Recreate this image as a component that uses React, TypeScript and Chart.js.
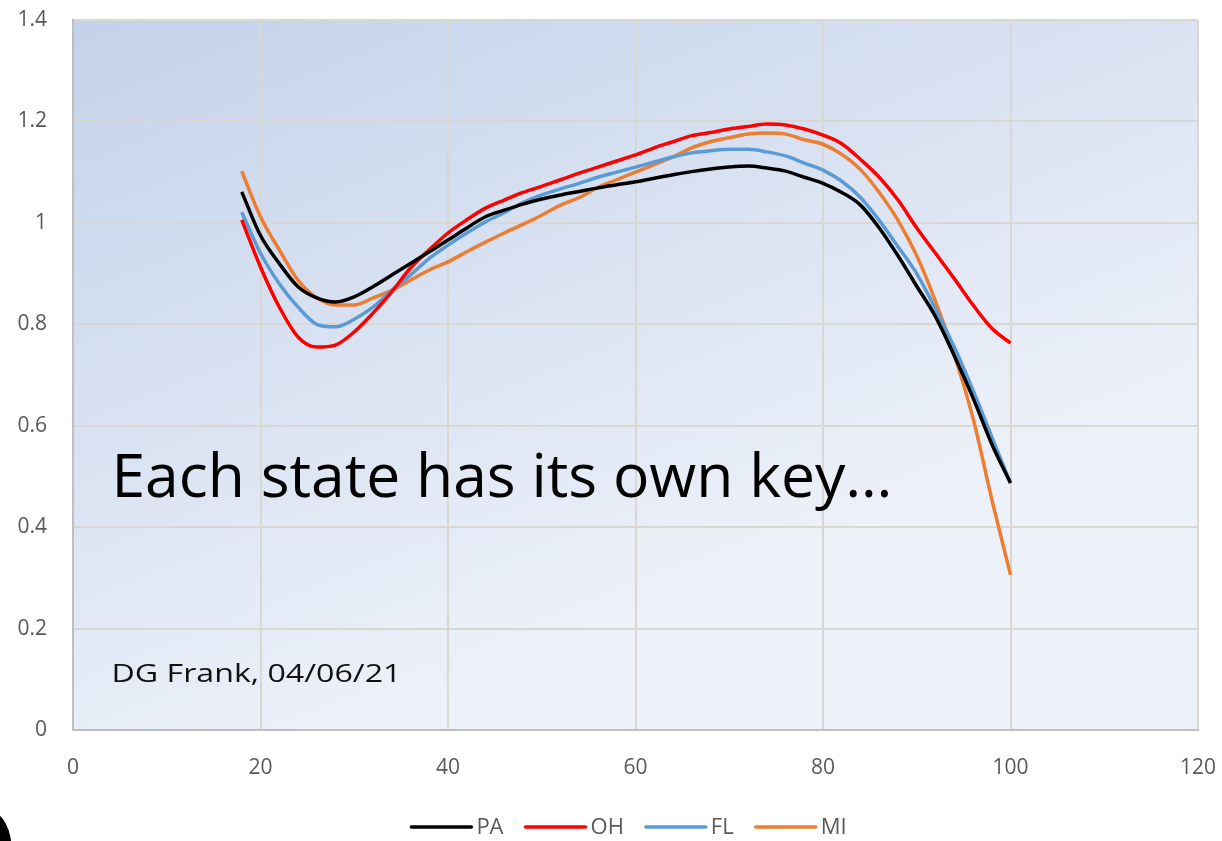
import React, { useEffect, useRef } from 'react';
import { Chart, registerables } from 'chart.js';

Chart.register(...registerables);

const ages = [18, 20, 22, 24, 26, 28, 30, 32, 34, 36, 38, 40, 42, 44, 46, 48, 50, 52, 54, 56, 58, 60, 62, 64, 66, 68, 70, 72, 74, 76, 78, 80, 82, 84, 86, 88, 90, 92, 94, 96, 98, 100];

const paValues = [1.061, 0.975, 0.92, 0.874, 0.852, 0.844, 0.854, 0.874, 0.897, 0.92, 0.943, 0.966, 0.99, 1.012, 1.025, 1.037, 1.047, 1.055, 1.062, 1.069, 1.075, 1.081, 1.088, 1.095, 1.101, 1.106, 1.11, 1.112, 1.108, 1.102, 1.09, 1.078, 1.06, 1.035, 0.99, 0.935, 0.875, 0.815, 0.738, 0.655, 0.564, 0.487];

const ohValues = [1.006, 0.913, 0.834, 0.775, 0.755, 0.759, 0.785, 0.822, 0.864, 0.911, 0.947, 0.98, 1.006, 1.029, 1.045, 1.06, 1.072, 1.085, 1.098, 1.11, 1.122, 1.134, 1.148, 1.16, 1.172, 1.178, 1.185, 1.19, 1.195, 1.193, 1.185, 1.173, 1.156, 1.125, 1.09, 1.045, 0.99, 0.94, 0.89, 0.838, 0.792, 0.763];

const flValues = [1.021, 0.94, 0.88, 0.834, 0.8, 0.795, 0.81, 0.834, 0.867, 0.897, 0.93, 0.956, 0.98, 1.002, 1.02, 1.04, 1.055, 1.067, 1.078, 1.09, 1.1, 1.11, 1.12, 1.13, 1.138, 1.142, 1.145, 1.145, 1.14, 1.132, 1.118, 1.104, 1.082, 1.05, 1.005, 0.953, 0.9, 0.83, 0.755, 0.67, 0.578, 0.487];

const miValues = [1.102, 1.012, 0.947, 0.887, 0.852, 0.838, 0.838, 0.852, 0.867, 0.887, 0.907, 0.923, 0.943, 0.962, 0.98, 0.997, 1.015, 1.035, 1.05, 1.07, 1.085, 1.1, 1.115, 1.13, 1.148, 1.16, 1.168, 1.175, 1.177, 1.175, 1.164, 1.155, 1.135, 1.105, 1.06, 1.005, 0.935, 0.845, 0.74, 0.615, 0.455, 0.306];

const seriesNames = ['PA', 'OH', 'FL', 'MI'];
const seriesColors = ['#000000', '#ff0000', '#5b9bd5', '#ed7d31'];
const seriesValues = [paValues, ohValues, flValues, miValues];

const xTickValues = [0, 20, 40, 60, 80, 100, 120];
const yTickValues = [0, 0.2, 0.4, 0.6, 0.8, 1, 1.2, 1.4];

const noteMain = 'Each state has its own key…';
const noteCredit = 'DG Frank, 04/06/21';

const FONT = '"Open Sans", "Noto Sans", sans-serif';

const backgroundPlugin = {
  id: 'bgPlot',
  beforeDraw(chart: any) {
    const { ctx, chartArea, width, height } = chart;
    ctx.save();
    ctx.fillStyle = '#ffffff';
    ctx.fillRect(0, 0, width, height);
    const g = ctx.createLinearGradient(chartArea.left, chartArea.top, chartArea.left + (chartArea.right - chartArea.left) * 0.25, chartArea.bottom);
    g.addColorStop(0, '#c3d2ea');
    g.addColorStop(1, '#edf1f9');
    ctx.fillStyle = g;
    ctx.fillRect(chartArea.left, chartArea.top, chartArea.right - chartArea.left, chartArea.bottom - chartArea.top);
    ctx.restore();
  },
};

function drawFitted(ctx: any, text: string, x: number, y: number, size: number, targetWidth: number, color: string) {
  ctx.save();
  ctx.font = `${size}px ${FONT}`;
  const w = ctx.measureText(text).width;
  const s = targetWidth / w;
  ctx.translate(x, y);
  ctx.scale(s, 1);
  ctx.fillStyle = color;
  ctx.textBaseline = 'alphabetic';
  ctx.textAlign = 'left';
  ctx.fillText(text, 0, 0);
  ctx.restore();
}

const notesPlugin = {
  id: 'notes',
  afterDatasetsDraw(chart: any) {
    const { ctx, scales } = chart;
    const x = scales.x.getPixelForValue(4.1);
    drawFitted(ctx, noteMain, x, scales.y.getPixelForValue(0.46), 61, 781, '#000000');
    drawFitted(ctx, noteCredit, x, scales.y.getPixelForValue(0.095), 26, 290, '#111111');
  },
};

const legendPlugin = {
  id: 'customLegend',
  afterDraw(chart: any) {
    const { ctx } = chart;
    const lineLen = 60;
    const gap = 5;
    const spacing = 22;
    ctx.save();
    ctx.font = `22px ${FONT}`;
    const items = chart.data.datasets.map((d: any) => ({ label: d.label, color: d.borderColor, w: ctx.measureText(d.label).width }));
    const total = items.reduce((a: number, it: any) => a + lineLen + gap + it.w, 0) + spacing * (items.length - 1);
    let x = 629 - total / 2;
    const y = 827;
    ctx.textBaseline = 'middle';
    ctx.textAlign = 'left';
    for (const it of items) {
      ctx.strokeStyle = it.color;
      ctx.lineWidth = 3.5;
      ctx.lineCap = 'round';
      ctx.beginPath();
      ctx.moveTo(x, y);
      ctx.lineTo(x + lineLen, y);
      ctx.stroke();
      x += lineLen + gap;
      ctx.fillStyle = '#595959';
      ctx.fillText(it.label, x, y + 1);
      x += it.w + spacing;
    }
    ctx.restore();
  },
};

const fmt = (v: any) => String(Math.round(Number(v) * 10) / 10);

export default function App() {
  const canvasRef = useRef<HTMLCanvasElement | null>(null);

  useEffect(() => {
    if (!canvasRef.current) return;
    const chart = new Chart(canvasRef.current, {
      type: 'line',
      data: {
        datasets: seriesNames.map((name, i) => ({
          label: name,
          data: ages.map((a, j) => ({ x: a, y: seriesValues[i][j] })),
          borderColor: seriesColors[i],
          backgroundColor: seriesColors[i],
          borderWidth: 3.5,
          pointRadius: 0,
          cubicInterpolationMode: 'monotone' as const,
          fill: false,
        })),
      },
      options: {
        animation: false,
        responsive: false,
        maintainAspectRatio: false,
        layout: { padding: { left: 0, right: 24, top: 20, bottom: 0 } },
        plugins: {
          legend: { display: false },
          tooltip: { enabled: false },
        },
        scales: {
          x: {
            type: 'linear',
            min: 0,
            max: 120,
            afterBuildTicks: (axis: any) => {
              axis.ticks = xTickValues.map((v) => ({ value: v }));
            },
            afterFit: (axis: any) => {
              axis.height = 111;
            },
            grid: { color: '#d9d7d2', lineWidth: 2, drawTicks: true, tickLength: 25, tickColor: 'rgba(0,0,0,0)' },
            border: { color: '#bfbfbf', width: 2 },
            ticks: { padding: 0, color: '#595959', font: { family: FONT, size: 21 }, callback: fmt, maxRotation: 0 },
          },
          y: {
            type: 'linear',
            min: 0,
            max: 1.4,
            afterBuildTicks: (axis: any) => {
              axis.ticks = yTickValues.map((v) => ({ value: v }));
            },
            afterFit: (axis: any) => {
              axis.width = 73;
            },
            grid: { color: '#d9d7d2', lineWidth: 2, drawTicks: true, tickLength: 26, tickColor: 'rgba(0,0,0,0)' },
            border: { color: '#bfbfbf', width: 2 },
            ticks: { padding: 0, color: '#595959', font: { family: FONT, size: 21 }, callback: fmt },
          },
        },
      },
      plugins: [backgroundPlugin, notesPlugin, legendPlugin],
    });
    return () => chart.destroy();
  }, []);

  return (
    <div style={{ position: 'fixed', left: 0, top: 0, width: 1222, height: 841, background: '#ffffff', overflow: 'hidden' }}>
      <canvas ref={canvasRef} width={1222} height={841} style={{ display: 'block', width: 1222, height: 841 }} />
      <div style={{ position: 'absolute', left: -30, top: 812, width: 42, height: 80, background: '#000', borderRadius: '50%' }} />
    </div>
  );
}
